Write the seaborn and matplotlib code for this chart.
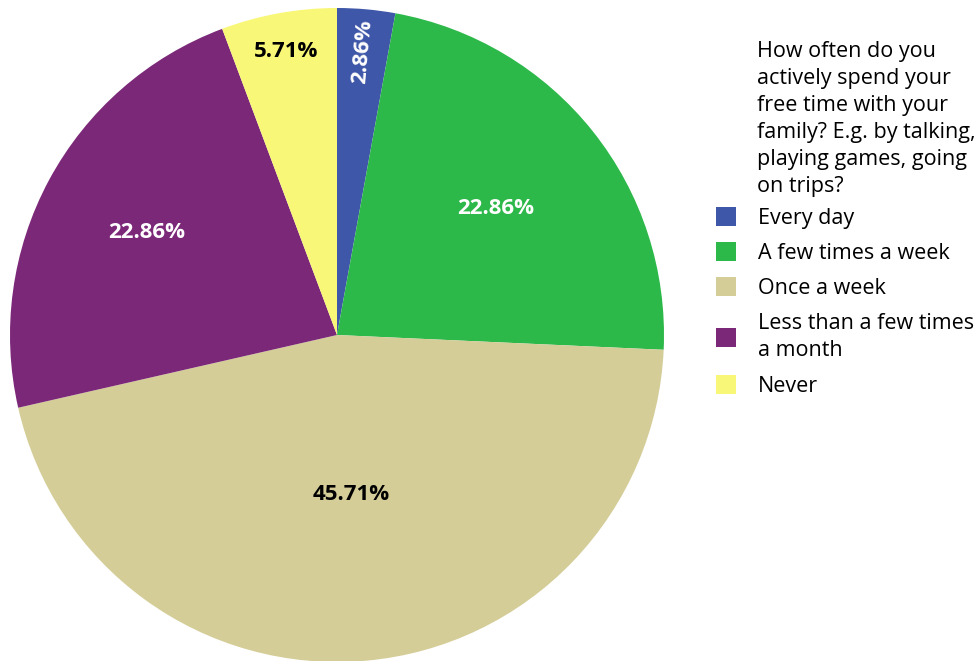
import numpy as np
import matplotlib
matplotlib.use("Agg")
import matplotlib.pyplot as plt
import seaborn as sns
from matplotlib.patches import Patch

sns.set_theme(style="white")
plt.rcParams["font.family"] = ["Open Sans", "DejaVu Sans"]

# Survey answers and their shares (%)
categories = ["Every day", "A few times a week", "Once a week",
              "Less than a few times\na month", "Never"]
shares = [2.86, 22.86, 45.71, 22.86, 5.71]
colors = ["#3F57A8", "#2DB84A", "#D4CD98", "#7B2878", "#F9F777"]
label_colors = ["white", "white", "black", "white", "black"]
label_radius = [0.87, 0.62, 0.49, 0.66, 0.88]
question = ("How often do you\nactively spend your\nfree time with your\n"
            "family? E.g. by talking,\nplaying games, going\non trips?")

W, H = 979, 661
fig = plt.figure(figsize=(W / 100, H / 100), dpi=100)
ax = fig.add_axes([0, 0, 1, 1])

cx, cy, r = 337, H - 335, 327
wedges, _ = ax.pie(shares, colors=colors, startangle=90, counterclock=False,
                   center=(cx, cy), radius=r, frame=True,
                   wedgeprops=dict(linewidth=0))
ax.set_xlim(0, W)
ax.set_ylim(0, H)
ax.set_aspect("equal")
ax.axis("off")

# percentage labels inside the slices
for w, val, tc, d in zip(wedges, shares, label_colors, label_radius):
    mid = np.deg2rad((w.theta1 + w.theta2) / 2)
    x = cx + r * d * np.cos(mid)
    y = cy + r * d * np.sin(mid)
    rot = np.rad2deg(mid) if val < 4 else 0
    ax.text(x, y, f"{val:.2f}%", color=tc, fontsize=16, fontweight="bold",
            ha="center", va="center", rotation=rot, rotation_mode="anchor")

FS = 15.5
ax.text(757, H - 41, question, fontsize=FS, color="black", ha="left",
        va="top", linespacing=1.38)

handles = [Patch(facecolor=c, edgecolor="none") for c in colors]
leg = fig.legend(handles, categories, loc="upper left",
                 bbox_to_anchor=(716 / W, 1 - 207 / H), frameon=False,
                 fontsize=FS, borderpad=0, borderaxespad=0,
                 handlelength=0.95, handleheight=0.95, handletextpad=1.0,
                 labelspacing=0.63)
for t in leg.get_texts():
    t.set_color("black")
    t.set_linespacing(1.42)

fig.savefig("out.png", dpi=100)
